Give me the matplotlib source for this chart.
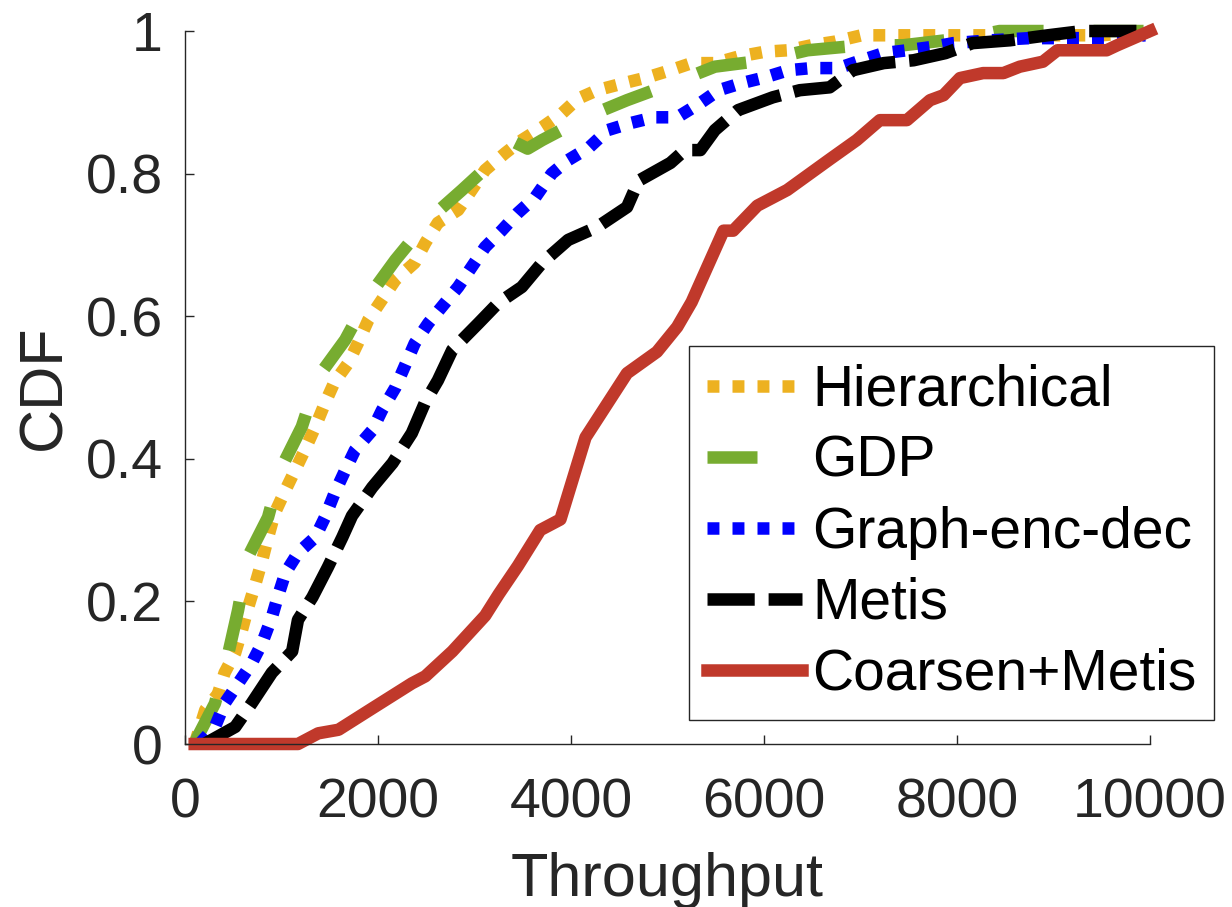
'''
CDF of throughput for the partitioning methods
'''

###############################################################################
## imports
###############################################################################

import numpy as np
import matplotlib
matplotlib.use('Agg')
import matplotlib.pyplot as plt

###############################################################################
## data
###############################################################################

labels = ['Hierarchical', 'GDP', 'Graph-enc-dec', 'Metis', 'Coarsen+Metis']

hier_x = [100, 210, 340, 410, 520, 590, 650, 730, 800, 860, 930, 1040, 1140,
          1240, 1350, 1450, 1550, 1690, 1790, 1900, 2040, 2180, 2380, 2490,
          2620, 2830, 2970, 3110, 3320, 3490, 3700, 3910, 4070, 4270, 4550,
          4790, 5030, 5250, 5490, 5730, 6010, 6250, 6490, 6730, 7010, 8500,
          9500, 10000]
hier_y = [0, 0.048, 0.07, 0.10, 0.128, 0.16, 0.19, 0.225, 0.258, 0.29, 0.324,
          0.356, 0.384, 0.412, 0.445, 0.478, 0.508, 0.534, 0.562, 0.595, 0.623,
          0.651, 0.675, 0.703, 0.731, 0.749, 0.777, 0.805, 0.829, 0.847, 0.865,
          0.885, 0.905, 0.917, 0.927, 0.935, 0.945, 0.955, 0.955, 0.964, 0.971,
          0.973, 0.98, 0.985, 0.994, 0.994, 0.994, 1.0]

gdp_x = [100, 130, 310, 450, 550, 650, 860, 1000, 1210, 1380, 1660, 1900, 2180,
         2520, 2870, 3240, 3400, 3550, 3700, 4150, 4580, 5060, 5490, 6010, 6450,
         7010, 7440, 8070, 8440, 10000]
gdp_y = [0, 0.01, 0.057, 0.128, 0.188, 0.262, 0.318, 0.388, 0.445, 0.515, 0.567,
         0.627, 0.679, 0.735, 0.777, 0.823, 0.845, 0.835, 0.847, 0.879, 0.903,
         0.927, 0.95, 0.959, 0.973, 0.98, 0.98, 0.99, 1.0, 1.0]

ged_x = [150, 310, 410, 550, 690, 800, 900, 960, 1040, 1170, 1350, 1450, 1550,
         1660, 1760, 1940, 2040, 2180, 2380, 2520, 2690, 2830, 2970, 3110, 3280,
         3450, 3630, 3800, 3970, 4190, 4380, 4620, 4860, 5100, 5340, 5530, 5770,
         6010, 6250, 6490, 6770, 7010, 7240, 7480, 7760, 7960, 8350, 8750, 9150,
         9540, 9950]
ged_y = [0, 0.024, 0.057, 0.085, 0.113, 0.142, 0.178, 0.206, 0.24, 0.268, 0.29,
         0.318, 0.352, 0.384, 0.412, 0.44, 0.468, 0.50, 0.562, 0.59, 0.618, 0.641,
         0.669, 0.697, 0.72, 0.745, 0.767, 0.80, 0.819, 0.837, 0.861, 0.871,
         0.879, 0.879, 0.899, 0.917, 0.927, 0.935, 0.945, 0.948, 0.948, 0.959,
         0.969, 0.973, 0.978, 0.983, 0.987, 0.99, 0.99, 0.99, 0.994]

metis_x = [200, 520, 690, 900, 1110, 1170, 1320, 1480, 1630, 1730, 1940, 2150,
           2350, 2490, 2620, 2770, 3040, 3240, 3490, 3700, 3970, 4270, 4580,
           4700, 5030, 5180, 5340, 5490, 5730, 6090, 6370, 6680, 6920, 7240,
           7550, 7880, 8160, 8550, 8940, 9300, 10000]
metis_y = [0, 0.024, 0.057, 0.10, 0.13, 0.174, 0.206, 0.248, 0.29, 0.32, 0.36,
           0.394, 0.436, 0.48, 0.51, 0.553, 0.59, 0.618, 0.641, 0.675, 0.707,
           0.725, 0.753, 0.79, 0.815, 0.833, 0.833, 0.861, 0.889, 0.907, 0.917,
           0.921, 0.945, 0.955, 0.959, 0.969, 0.983, 0.987, 0.994, 1.0, 1.0]

coarse_x = [100, 1170, 1380, 1590, 1940, 2350, 2490, 2770, 3110, 3250, 3450,
            3680, 3890, 4150, 4580, 4890, 5100, 5250, 5580, 5680, 5930, 6240,
            6680, 6960, 7200, 7480, 7720, 7860, 8030, 8270, 8480, 8650, 8890,
            9040, 9550, 9660, 10000]
coarse_y = [0, 0, 0.015, 0.02, 0.05, 0.085, 0.095, 0.13, 0.18, 0.21, 0.25, 0.30,
            0.315, 0.43, 0.52, 0.55, 0.585, 0.62, 0.72, 0.72, 0.755, 0.777, 0.82,
            0.847, 0.875, 0.875, 0.903, 0.91, 0.934, 0.941, 0.941, 0.95, 0.957,
            0.973, 0.973, 0.98, 1.0]

xticks = [0, 2000, 4000, 6000, 8000, 10000]
yticks = [0, 0.2, 0.4, 0.6, 0.8, 1]
ytick_labels = ['0', '0.2', '0.4', '0.6', '0.8', '1']

###############################################################################
## plot
###############################################################################

plt.rcParams['font.family'] = ['Liberation Sans', 'DejaVu Sans']
plt.rcParams['lines.scale_dashes'] = False

axcol = '#262626'
lw = 9

fig = plt.figure(figsize=(12.32, 9.07), dpi=100)
ax = fig.add_axes([0.1502, 0.1797, 0.7833, 0.7861])

ax.plot(hier_x, hier_y, color='#EDB120', lw=lw, dashes=(8.6, 9.4),
        label=labels[0], clip_on=False)
ax.plot(gdp_x, gdp_y, color='#77AC30', lw=lw, dashes=(36, 36),
        label=labels[1], clip_on=False)
ax.plot(ged_x, ged_y, color='#0000FF', lw=lw, dashes=(8.6, 9.4),
        label=labels[2], clip_on=False)
ax.plot(metis_x, metis_y, color='black', lw=lw, dashes=(34, 10),
        label=labels[3], clip_on=False)
ax.plot(coarse_x, coarse_y, color='#C0392B', lw=lw, solid_joinstyle='round',
        label=labels[4], clip_on=False)

ax.set_xlim(0, 10000)
ax.set_ylim(0, 1)
ax.set_xticks(xticks)
ax.set_xticklabels([str(t) for t in xticks])
ax.set_yticks(yticks)
ax.set_yticklabels(ytick_labels)

for side in ['top', 'right']:
    ax.spines[side].set_visible(False)
for side in ['left', 'bottom']:
    ax.spines[side].set_color(axcol)
    ax.spines[side].set_linewidth(1.0)

ax.tick_params(axis='both', direction='in', length=6.5, width=1.0,
               color=axcol, labelcolor=axcol, labelsize=40)
ax.tick_params(axis='x', pad=24)
ax.tick_params(axis='y', pad=16)

ax.set_xlabel('Throughput', fontsize=44, color=axcol, labelpad=16)
ax.set_ylabel('CDF', fontsize=44, color=axcol, labelpad=9)

leg = ax.legend(loc='upper left', bbox_to_anchor=(689/1232, (907-346)/907),
                bbox_transform=fig.transFigure, borderaxespad=0,
                fontsize=41, handlelength=1.67, handletextpad=0.19,
                borderpad=0.31, labelspacing=0.3, fancybox=False,
                framealpha=1)
leg.get_frame().set_edgecolor(axcol)
leg.get_frame().set_linewidth(1.0)

fig.savefig('out.png', dpi=100)
